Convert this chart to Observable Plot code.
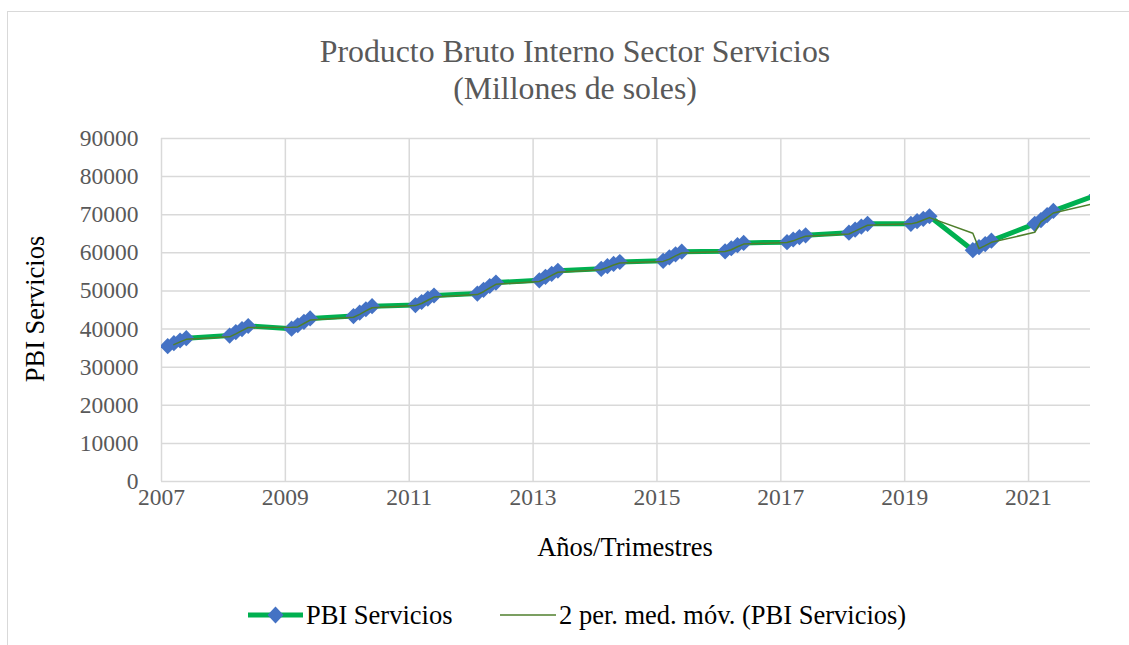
<!DOCTYPE html>
<html>
<head>
<meta charset="utf-8">
<script src="https://cdn.jsdelivr.net/npm/d3@7"></script>
<script src="https://cdn.jsdelivr.net/npm/@observablehq/plot@0.6"></script>
<style>
  html, body { margin: 0; padding: 0; background: #fff; }
  body { width: 1129px; height: 645px; position: relative; overflow: hidden; font-family: "Liberation Serif", "Times New Roman", serif; }
  #frame { position: absolute; left: 7px; top: 11px; width: 1200px; height: 700px; border-left: 1px solid #d9d9d9; border-top: 1px solid #d9d9d9; }
  #chart { position: absolute; left: 0; top: 0; }
  #chart svg text { font-family: "Liberation Serif", "Times New Roman", serif; }
  .title { position: absolute; left: 0; width: 1150px; text-align: center; color: #595959; font-size: 31.8px; line-height: 36px; white-space: nowrap; }
  .axtitle { position: absolute; color: #000; font-size: 26.5px; line-height: 30px; white-space: nowrap; }
  .legitem { position: absolute; top: 600px; height: 30px; display: flex; align-items: center; font-size: 26.5px; color: #000; white-space: nowrap; }
</style>
</head>
<body>
<div id="frame"></div>
<div id="chart"></div>
<div class="title" style="top:34px">Producto Bruto Interno Sector Servicios</div>
<div class="title" style="top:71px">(Millones de soles)</div>
<div class="axtitle" id="xtitle" style="left:625px; top:532px; transform: translateX(-50%);">Años/Trimestres</div>
<div class="axtitle" id="ytitle" style="left:35px; top:309px; transform: translate(-50%,-50%) rotate(-90deg);">PBI Servicios</div>
<div id="legend"></div>
<script>
// ---- data ----
const years = [2007, 2008, 2009, 2010, 2011, 2012, 2013, 2014, 2015, 2016, 2017, 2018, 2019, 2020, 2021, 2022];
const quarters = [1, 2, 3, 4];
const pbiServicios = [
  35500, 36300, 37000, 37600,
  38300, 39200, 40000, 40800,
  40100, 41000, 41900, 42800,
  43400, 44300, 45200, 46000,
  46300, 47100, 48000, 48800,
  49300, 50300, 51300, 52200,
  52800, 53700, 54500, 55300,
  55800, 56500, 57100, 57600,
  57900, 58800, 59600, 60300,
  60400, 61200, 62000, 62600,
  62800, 63500, 64100, 64600,
  65300, 66100, 66900, 67600,
  67600, 68300, 68900, 69600,
  60700, 61500, 62300, 63200,
  67600, 68600, 69900, 71000,
  75200
];
const xTicks = [2007, 2009, 2011, 2013, 2015, 2017, 2019, 2021];
const yTicks = [0, 10000, 20000, 30000, 40000, 50000, 60000, 70000, 80000, 90000];
const seriesNames = ["PBI Servicios", "2 per. med. móv. (PBI Servicios)"];
const xDomain = [2007, 2022];
const yDomain = [0, 90000];

// ---- build tables ----
const table = pbiServicios.map((v, i) => ({
  t: years[Math.floor(i / 4)] + quarters[i % 4] / 10,
  v
}));
const movingAvg = table.slice(1).map((d, i) => ({ t: d.t, v: (table[i].v + d.v) / 2 }));

const green = "#00B050";
const blue = "#4472C4";
const maColor = "#4F7F2C";
const grid = "#d9d9d9";
const serif = '"Liberation Serif", "Times New Roman", serif';

const chart = Plot.plot({
  width: 1129,
  height: 645,
  marginLeft: 161,
  marginRight: 39,
  marginTop: 138,
  marginBottom: 164,
  style: { fontFamily: serif, fontSize: "23.5px", background: "transparent", color: "#595959" },
  x: { domain: xDomain, label: null },
  y: { domain: yDomain, label: null },
  marks: [
    Plot.gridY(yTicks, { stroke: grid, strokeOpacity: 1, strokeWidth: 1.5 }),
    Plot.gridX(xTicks, { stroke: grid, strokeOpacity: 1, strokeWidth: 1.5 }),
    Plot.axisY(yTicks, { tickSize: 0, tickPadding: 23, tickFormat: d => String(d), label: null, fill: "#595959", fontSize: 23.5, fontFamily: serif }),
    Plot.axisX(xTicks, { tickSize: 0, tickPadding: 7, tickFormat: d => String(d), label: null, fill: "#595959", fontSize: 23.5, fontFamily: serif }),
    Plot.line(table, { x: "t", y: "v", stroke: green, strokeWidth: 5, clip: true }),
    Plot.dot(table, { x: "t", y: "v", symbol: "diamond2", r: 7.3, fill: blue, stroke: "none", clip: true }),
    Plot.line(movingAvg, { x: "t", y: "v", stroke: maColor, strokeWidth: 1.5, clip: true })
  ]
});
document.getElementById("chart").appendChild(chart);

// ---- legend ----
const legend = document.getElementById("legend");
function item(left, swatchSvg, label) {
  const div = document.createElement("div");
  div.className = "legitem";
  div.style.left = left + "px";
  div.innerHTML = swatchSvg + `<span style="margin-left:3px">${label}</span>`;
  legend.appendChild(div);
}
item(248,
  `<svg width="55" height="24" viewBox="0 0 55 24"><line x1="0" y1="12" x2="55" y2="12" stroke="${green}" stroke-width="5"/><path d="M27.5,3.5 L35.5,12 L27.5,20.5 L19.5,12 Z" fill="${blue}"/></svg>`,
  seriesNames[0]);
item(500,
  `<svg width="56" height="24" viewBox="0 0 56 24"><line x1="0" y1="12" x2="56" y2="12" stroke="${maColor}" stroke-width="1.5"/></svg>`,
  seriesNames[1]);
</script>
</body>
</html>
